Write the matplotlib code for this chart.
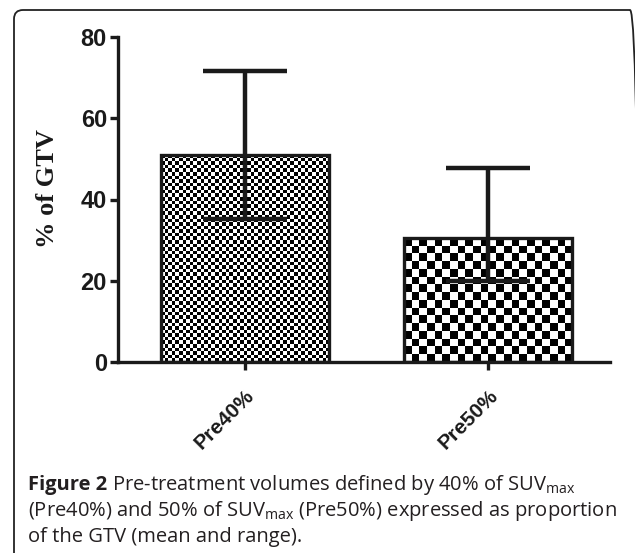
import numpy as np
import matplotlib
matplotlib.use("Agg")
import matplotlib.pyplot as plt
from matplotlib.patches import FancyBboxPatch
from matplotlib.transforms import IdentityTransform

# data (mean with range)
groups = ["Pre40%", "Pre50%"]
means = [51.0, 30.5]
mins = [35.2, 20.0]
maxs = [71.6, 47.7]
cell_px = [3.6, 7.6]  # checker square size of each bar's fill

W, H = 635, 553
fig = plt.figure(figsize=(W / 100, H / 100), dpi=100)

# rounded frame round the whole panel (pixel coords, origin bottom-left)
frame = FancyBboxPatch((14, -30), 625, H - 10 + 30,
                       boxstyle="round,pad=0,rounding_size=9",
                       transform=IdentityTransform(), facecolor="none",
                       edgecolor="#222222", linewidth=1.3)
fig.patches.append(frame)

ax = fig.add_axes([118 / W, (H - 362) / H, 492 / W, 325 / H])
x = np.arange(len(groups))
bars = ax.bar(x, means, width=0.69, facecolor="none", edgecolor="#1a1a1a",
              linewidth=2.4, zorder=2)
ax.set_xlim(-0.52, 1.5)
ax.set_ylim(0, 80)

# checkerboard fill inside each bar
fig.canvas.draw()
for b, c in zip(bars, cell_px):
    x0, y0 = b.get_x(), b.get_y()
    x1, y1 = x0 + b.get_width(), y0 + b.get_height()
    p0 = ax.transData.transform((x0, y0))
    p1 = ax.transData.transform((x1, y1))
    nx = max(1, int(round((p1[0] - p0[0]) / c)))
    ny = max(1, int(round((p1[1] - p0[1]) / c)))
    board = (np.add.outer(np.arange(ny), np.arange(nx)) % 2).astype(float)
    ax.imshow(board, cmap="gray", vmin=0, vmax=1, extent=(x0, x1, y0, y1),
              interpolation="nearest", aspect="auto", zorder=1.5)
ax.set_aspect("auto")
ax.set_xlim(-0.52, 1.5)
ax.set_ylim(0, 80)

err = [np.array(means) - np.array(mins), np.array(maxs) - np.array(means)]
ax.errorbar(x, means, yerr=err, fmt="none", ecolor="#1a1a1a", elinewidth=3.2,
            capsize=30, capthick=3.2, zorder=3)

for s in ["top", "right"]:
    ax.spines[s].set_visible(False)
for s in ["left", "bottom"]:
    ax.spines[s].set_linewidth(2.4)
    ax.spines[s].set_color("#1a1a1a")

ax.set_yticks([0, 20, 40, 60, 80])
ax.set_xticks(x)
ax.set_xticklabels(groups, rotation=45, ha="right", va="top",
                   rotation_mode="anchor")
ax.tick_params(axis="both", direction="out", length=6, width=2.4,
               color="#1a1a1a")
ax.tick_params(axis="y", pad=2)
ax.tick_params(axis="x", pad=11)
for lab in ax.get_yticklabels():
    lab.set_fontfamily("Liberation Sans")
    lab.set_fontweight("bold")
    lab.set_fontsize(17)
    lab.set_color("#1a1a1a")
for lab in ax.get_xticklabels():
    lab.set_fontfamily("Liberation Sans")
    lab.set_fontweight("bold")
    lab.set_fontsize(15)
    lab.set_color("#1a1a1a")

ax.set_ylabel("% of GTV", fontfamily="Liberation Serif", fontweight="bold",
              fontsize=19, color="#1a1a1a")
ax.yaxis.set_label_coords(-0.12, 0.535)

# caption
cap_x = 28
cap_kw = dict(fontfamily="Open Sans", fontsize=14.5, color="#231f20",
              va="baseline", ha="left")
r = fig.canvas.get_renderer()
t0 = fig.text(cap_x / W, 1 - 490 / H, "Figure 2", fontweight="bold", **cap_kw)
bb = t0.get_window_extent(renderer=r)
fig.text((bb.x1 + 5) / W, 1 - 490 / H,
         "Pre-treatment volumes defined by 40% of SUV$_\\mathregular{max}$",
         **cap_kw)
fig.text(cap_x / W, 1 - 516 / H,
         "(Pre40%) and 50% of SUV$_\\mathregular{max}$ (Pre50%) expressed as proportion",
         **cap_kw)
fig.text(cap_x / W, 1 - 542 / H, "of the GTV (mean and range).", **cap_kw)

fig.savefig("out.png", dpi=100)
